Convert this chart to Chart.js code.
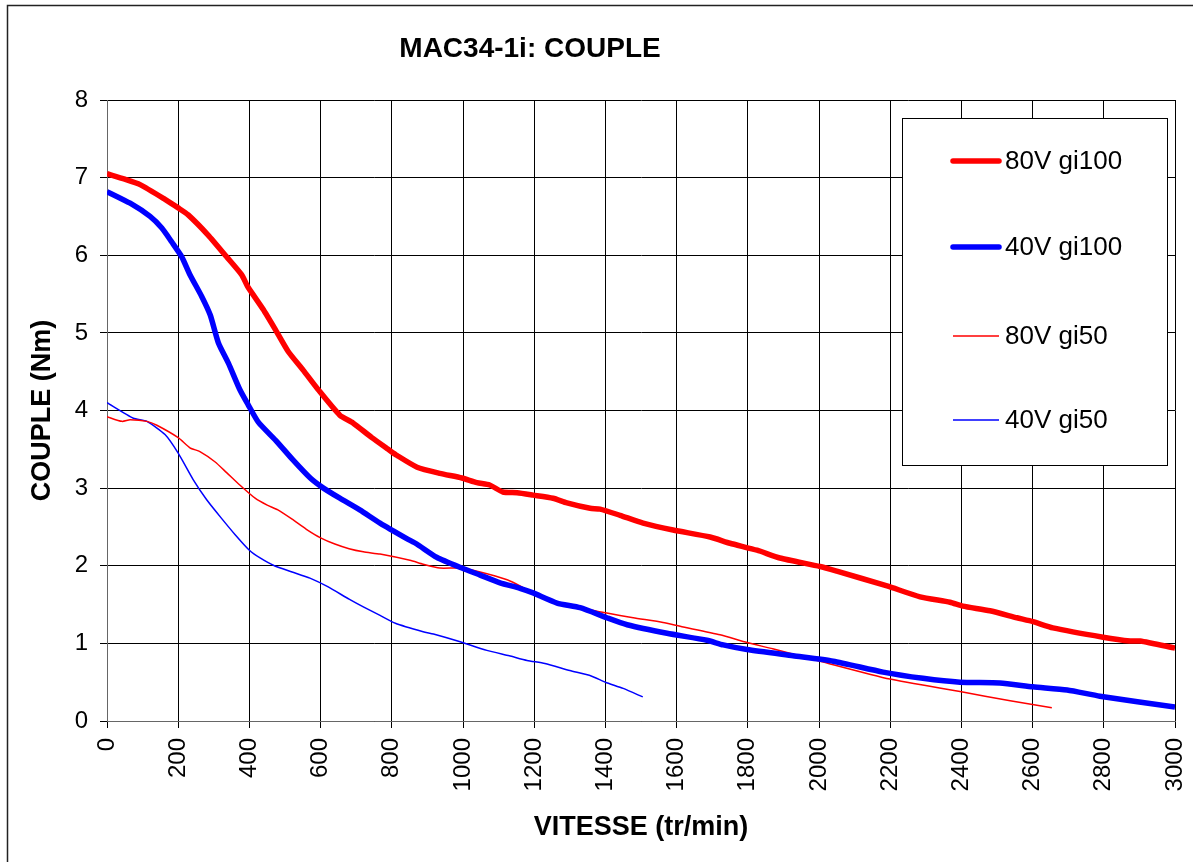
<!DOCTYPE html>
<html>
<head>
<meta charset="utf-8">
<script src="https://cdn.jsdelivr.net/npm/chart.js@4.4.0/dist/chart.umd.min.js"></script>
<style>
  body { margin: 0; background: #fff; }
  #wrap { width: 1193px; height: 862px; }
</style>
</head>
<body>
<div id="wrap"><canvas id="couple" width="1193" height="862"></canvas></div>
<script>
// Values (vitesse in tr/min, couple in Nm)
const vitesse80gi100 = [0, 50, 93, 163, 200, 228, 284, 336, 378, 396, 439, 477, 509, 551, 593, 654, 691, 744, 790, 815, 871, 935, 997, 1039, 1075, 1112, 1152, 1197, 1253, 1292, 1357, 1385, 1441, 1506, 1590, 1694, 1750, 1826, 1890, 2003, 2050, 2191, 2284, 2368, 2404, 2480, 2556, 2601, 2657, 2798, 2874, 2902, 3000];
const couple80gi100 = [7.05, 6.98, 6.91, 6.72, 6.61, 6.52, 6.26, 5.98, 5.75, 5.59, 5.30, 5.01, 4.76, 4.52, 4.27, 3.94, 3.84, 3.65, 3.50, 3.42, 3.27, 3.19, 3.13, 3.07, 3.04, 2.95, 2.94, 2.91, 2.87, 2.81, 2.74, 2.73, 2.65, 2.55, 2.46, 2.37, 2.29, 2.20, 2.10, 1.99, 1.93, 1.74, 1.60, 1.53, 1.48, 1.42, 1.33, 1.28, 1.20, 1.08, 1.03, 1.03, 0.94];

const vitesse40gi100 = [0, 65, 121, 154, 182, 210, 233, 266, 290, 313, 341, 373, 397, 425, 477, 523, 571, 608, 654, 710, 767, 842, 870, 926, 997, 1048, 1104, 1160, 1197, 1264, 1329, 1404, 1461, 1573, 1685, 1731, 1798, 1927, 2040, 2180, 2292, 2396, 2508, 2601, 2697, 2789, 3000];
const couple40gi100 = [6.82, 6.67, 6.50, 6.35, 6.17, 5.98, 5.75, 5.47, 5.23, 4.87, 4.61, 4.27, 4.07, 3.85, 3.60, 3.36, 3.13, 3.00, 2.87, 2.72, 2.55, 2.35, 2.28, 2.11, 1.97, 1.88, 1.78, 1.71, 1.65, 1.52, 1.46, 1.33, 1.24, 1.13, 1.04, 0.98, 0.92, 0.84, 0.77, 0.63, 0.55, 0.50, 0.49, 0.44, 0.40, 0.32, 0.18];

const vitesse80gi50 = [0, 42, 65, 112, 140, 200, 233, 261, 303, 336, 373, 416, 450, 480, 520, 560, 600, 640, 680, 720, 767, 851, 888, 935, 992, 1048, 1124, 1160, 1208, 1273, 1329, 1404, 1478, 1562, 1610, 1722, 1798, 1870, 2003, 2199, 2396, 2537, 2654];
const couple80gi50 = [3.92, 3.86, 3.88, 3.86, 3.81, 3.65, 3.52, 3.47, 3.34, 3.20, 3.04, 2.87, 2.78, 2.72, 2.60, 2.47, 2.36, 2.28, 2.22, 2.18, 2.15, 2.07, 2.02, 1.97, 1.97, 1.92, 1.82, 1.74, 1.61, 1.50, 1.46, 1.39, 1.33, 1.27, 1.22, 1.11, 1.01, 0.93, 0.77, 0.54, 0.38, 0.26, 0.17];

const vitesse40gi50 = [0, 74, 112, 163, 200, 242, 280, 320, 360, 400, 430, 470, 520, 570, 620, 680, 720, 767, 810, 888, 917, 992, 1067, 1130, 1180, 1230, 1300, 1360, 1400, 1450, 1505];
const couple40gi50 = [4.10, 3.90, 3.86, 3.69, 3.45, 3.11, 2.85, 2.62, 2.40, 2.20, 2.10, 2.00, 1.92, 1.84, 1.73, 1.57, 1.47, 1.36, 1.26, 1.15, 1.12, 1.02, 0.91, 0.84, 0.78, 0.74, 0.65, 0.58, 0.50, 0.42, 0.31];

const seriesLabels = ['80V gi100', '40V gi100', '80V gi50', '40V gi50'];

const FONT = '"Liberation Sans", Arial, sans-serif';

function toPoints(xs, ys) {
  return xs.map((x, i) => ({ x: x, y: ys[i] }));
}

// frame, title and boxed legend are drawn by hand
const decor = {
  id: 'decor',
  beforeDraw(chart) {
    const ctx = chart.ctx;
    ctx.save();
    ctx.fillStyle = '#fff';
    ctx.fillRect(0, 0, chart.width, chart.height);
    ctx.strokeStyle = '#222';
    ctx.lineWidth = 1.5;
    ctx.strokeRect(7.5, 5.5, chart.width + 20, chart.height + 20);
    ctx.restore();
  },
  afterDraw(chart) {
    const ctx = chart.ctx;
    ctx.save();
    // title
    ctx.fillStyle = '#000';
    ctx.font = 'bold 28px ' + FONT;
    ctx.textAlign = 'center';
    ctx.textBaseline = 'middle';
    ctx.fillText('MAC34-1i: COUPLE', 530, 49);

    // legend box
    ctx.fillStyle = '#fff';
    ctx.fillRect(902, 118, 265, 347);
    ctx.strokeStyle = '#000';
    ctx.lineWidth = 1;
    ctx.strokeRect(902.5, 118.5, 265, 347);

    const rows = [161, 247, 336, 420];
    ctx.font = '26px ' + FONT;
    ctx.textAlign = 'left';
    chart.data.datasets.forEach((ds, i) => {
      ctx.strokeStyle = ds.borderColor;
      ctx.lineWidth = ds.borderWidth;
      ctx.lineCap = ds.borderWidth > 2 ? 'round' : 'butt';
      ctx.beginPath();
      ctx.moveTo(953, rows[i]);
      ctx.lineTo(999, rows[i]);
      ctx.stroke();
      ctx.fillStyle = '#000';
      ctx.fillText(ds.label, 1005, rows[i] + 1);
    });
    ctx.restore();
  }
};

const ctx = document.getElementById('couple');
new Chart(ctx, {
  type: 'line',
  data: {
    datasets: [
      { label: seriesLabels[0], data: toPoints(vitesse80gi100, couple80gi100), borderColor: '#ff0000', borderWidth: 5.5 },
      { label: seriesLabels[1], data: toPoints(vitesse40gi100, couple40gi100), borderColor: '#0000ff', borderWidth: 5.5 },
      { label: seriesLabels[2], data: toPoints(vitesse80gi50, couple80gi50), borderColor: '#ff0000', borderWidth: 1.5 },
      { label: seriesLabels[3], data: toPoints(vitesse40gi50, couple40gi50), borderColor: '#0000ff', borderWidth: 1.5 }
    ]
  },
  options: {
    responsive: false,
    animation: false,
    elements: {
      point: { radius: 0 },
      line: { tension: 0.2, borderJoinStyle: 'round', borderCapStyle: 'butt', fill: false }
    },
    layout: { padding: { left: 7, right: 18, top: 100, bottom: 0 } },
    plugins: {
      legend: { display: false },
      title: { display: false },
      tooltip: { enabled: false }
    },
    scales: {
      x: {
        type: 'linear',
        min: 0,
        max: 3000,
        afterFit(scale) {
          scale.height = 141;
          scale.paddingLeft = 0;
          scale.paddingRight = 0;
        },
        ticks: {
          stepSize: 200,
          color: '#000',
          font: { size: 24, family: FONT },
          minRotation: 90,
          maxRotation: 90,
          padding: 10,
          callback: (v) => String(v)
        },
        grid: { color: '#000', lineWidth: 1, tickLength: 7 },
        border: { color: '#666', width: 1 },
        title: {
          display: true,
          text: 'VITESSE (tr/min)',
          color: '#000',
          font: { size: 27, weight: 'bold', family: FONT },
          padding: 18
        }
      },
      y: {
        min: 0,
        max: 8,
        afterFit(scale) { scale.width = 100; },
        ticks: {
          stepSize: 1,
          color: '#000',
          font: { size: 24, family: FONT },
          padding: 12,
          callback: (v) => String(v)
        },
        grid: { color: '#000', lineWidth: 1, tickLength: 7 },
        border: { color: '#666', width: 1 },
        title: {
          display: true,
          text: 'COUPLE (Nm)',
          color: '#000',
          font: { size: 27, weight: 'bold', family: FONT },
          padding: 19
        }
      }
    }
  },
  plugins: [decor]
});
</script>
</body>
</html>
